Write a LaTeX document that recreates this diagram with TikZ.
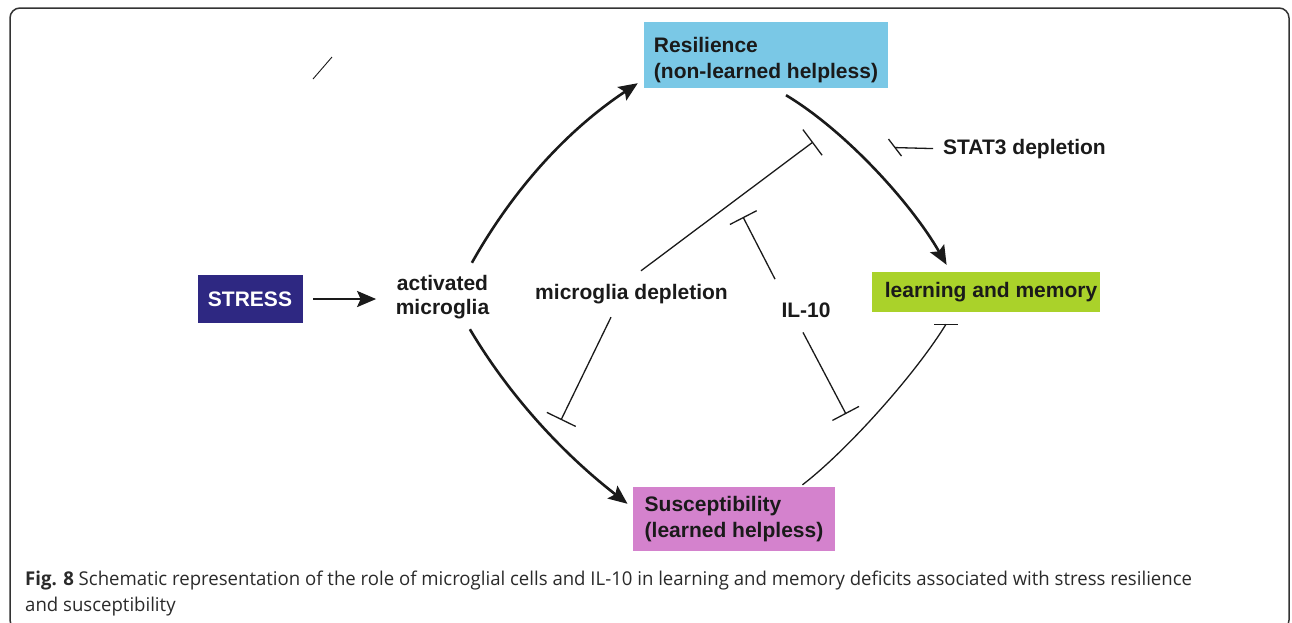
\documentclass[tikz,border=0pt]{standalone}
\usepackage{fontspec}
\setmainfont{Liberation Sans}
\newfontfamily\capfont[FakeStretch=0.978]{Open Sans}
\usetikzlibrary{arrows.meta,calc}
\definecolor{stresscol}{HTML}{2E2882}
\definecolor{rescol}{HTML}{7AC8E6}
\definecolor{lmcol}{HTML}{AAD22A}
\definecolor{suscol}{HTML}{D482CD}
\definecolor{txtcol}{HTML}{1A1A1A}
\definecolor{capcol}{HTML}{2A2A2A}
\tikzset{
  lbl/.style={font=\fontsize{21}{24}\selectfont\bfseries, text=txtcol, inner sep=0pt},
  colbox/.style={font=\fontsize{21}{26}\selectfont\bfseries, text=txtcol, align=left, inner ysep=2pt},
  bigarrow/.style={line width=2.6pt, draw=txtcol, -{Stealth[length=19pt,width=16pt,inset=3.5pt]}},
  inhib/.style={line width=1.3pt, draw=txtcol},
  inhibbar/.style={line width=1.3pt, draw=txtcol, -{Bar[width=#1]}},
}
\begin{document}
\begin{tikzpicture}[x=1pt,y=-1pt]
\useasboundingbox (0,0) rectangle (1292,622);
% frame
\draw[line width=1.5pt, draw=black!80, rounded corners=10pt] (10,8) rectangle (1289,630);
% stray slash
\draw[line width=0.9pt, draw=txtcol] (313,79) -- (332,57);

% boxes
\node[fill=stresscol, text=white, font=\fontsize{21}{26}\selectfont\bfseries,
      minimum width=105pt, minimum height=48pt, inner sep=0pt] (stress) at (250,299) {STRESS};
\node[colbox, fill=rescol, minimum width=244pt, minimum height=66pt, inner xsep=10pt]
      (res) at (766,55) {\rule{0pt}{26pt}Resilience\\(non-learned helpless)};
\node[colbox, fill=lmcol, minimum width=228pt, minimum height=40pt, inner xsep=3pt]
      (lm) at (986,292) {\hspace*{10pt}learning and memory};
\node[colbox, fill=suscol, minimum width=202pt, minimum height=64pt, inner xsep=12pt]
      (sus) at (734,519) {Susceptibility\\(learned helpless)};

% labels
\node[lbl, align=center] (act) at (442.5,297.6) {activated\\microglia};
\node[lbl, anchor=base] (md) at (631.5,299.5) {microglia depletion};
\node[lbl, anchor=base] (il) at (806,317) {IL-10};
\node[lbl, anchor=base west] (stat) at (943,154) {STAT3 depletion};

% free ends of inhibition lines
\coordinate (mdu) at (813,142);
\coordinate (mdl) at (561,420);
\coordinate (ilu) at (743,217);
\coordinate (ill) at (846,414);
\coordinate (lmb) at ($(lm.south)+(-40,12)$);
\coordinate (stb) at ($(stat.west)+(-48,-1)$);

% main arrows
\draw[bigarrow, shorten <=10.5pt, shorten >=19.5pt] (stress.east) -- (stress.east -| act.west);
\draw[bigarrow] ($(act.north east)+(-17.5,-12.8)$) .. controls +(41.7,-74) and +(-70.5,46.8) .. ($(res.south west)+(-6,-5)$);
\draw[bigarrow] ($(act.south east)+(-19.5,9.6)$) .. controls +(41,69) and +(-63,-49) .. ($(sus.north west)+(-5,17)$);
\draw[bigarrow] ($(res.south)+(20,7)$) .. controls +(60,36) and +(-35,-61) .. ($(lm.north west)+(75,-7)$);

% inhibition: susceptibility -> learning and memory
\draw[inhib] ($(sus.north east)+(-33,-2)$) .. controls +(43,-33) and +(-32,52) .. (lmb);
\draw[inhib] ($(lmb)+(-12,0)$) -- ($(lmb)+(12,0)$);

% inhibition lines with bars
\draw[inhibbar=32pt] ($(md.north)+(9.5,-13.3)$) -- (mdu);
\draw[inhibbar=32pt] ($(md.south)+(-20.5,13)$) -- (mdl);
\draw[inhibbar=30pt] ($(il.north)+(-31,-23)$) -- (ilu);
\draw[inhibbar=30pt] ($(il.south)+(-3,15)$) -- (ill);

% STAT3 depletion
\draw[inhib] ([xshift=-10pt]stat.west) -- (stb);
\draw[inhib] ($(stb)+(-6.5,-8.5)$) -- ($(stb)+(6.5,8.5)$);

% caption
\node[anchor=base west, inner sep=0pt, align=left, text=capcol,
      font=\capfont\fontsize{19}{26.7}\selectfont] (cap) at (25,611.7)
  {\textbf{Fig. 8} Schematic representation of the role of microglial cells and IL-10 in learning and memory deficits associated with stress resilience\\and susceptibility};
\end{tikzpicture}
\end{document}
